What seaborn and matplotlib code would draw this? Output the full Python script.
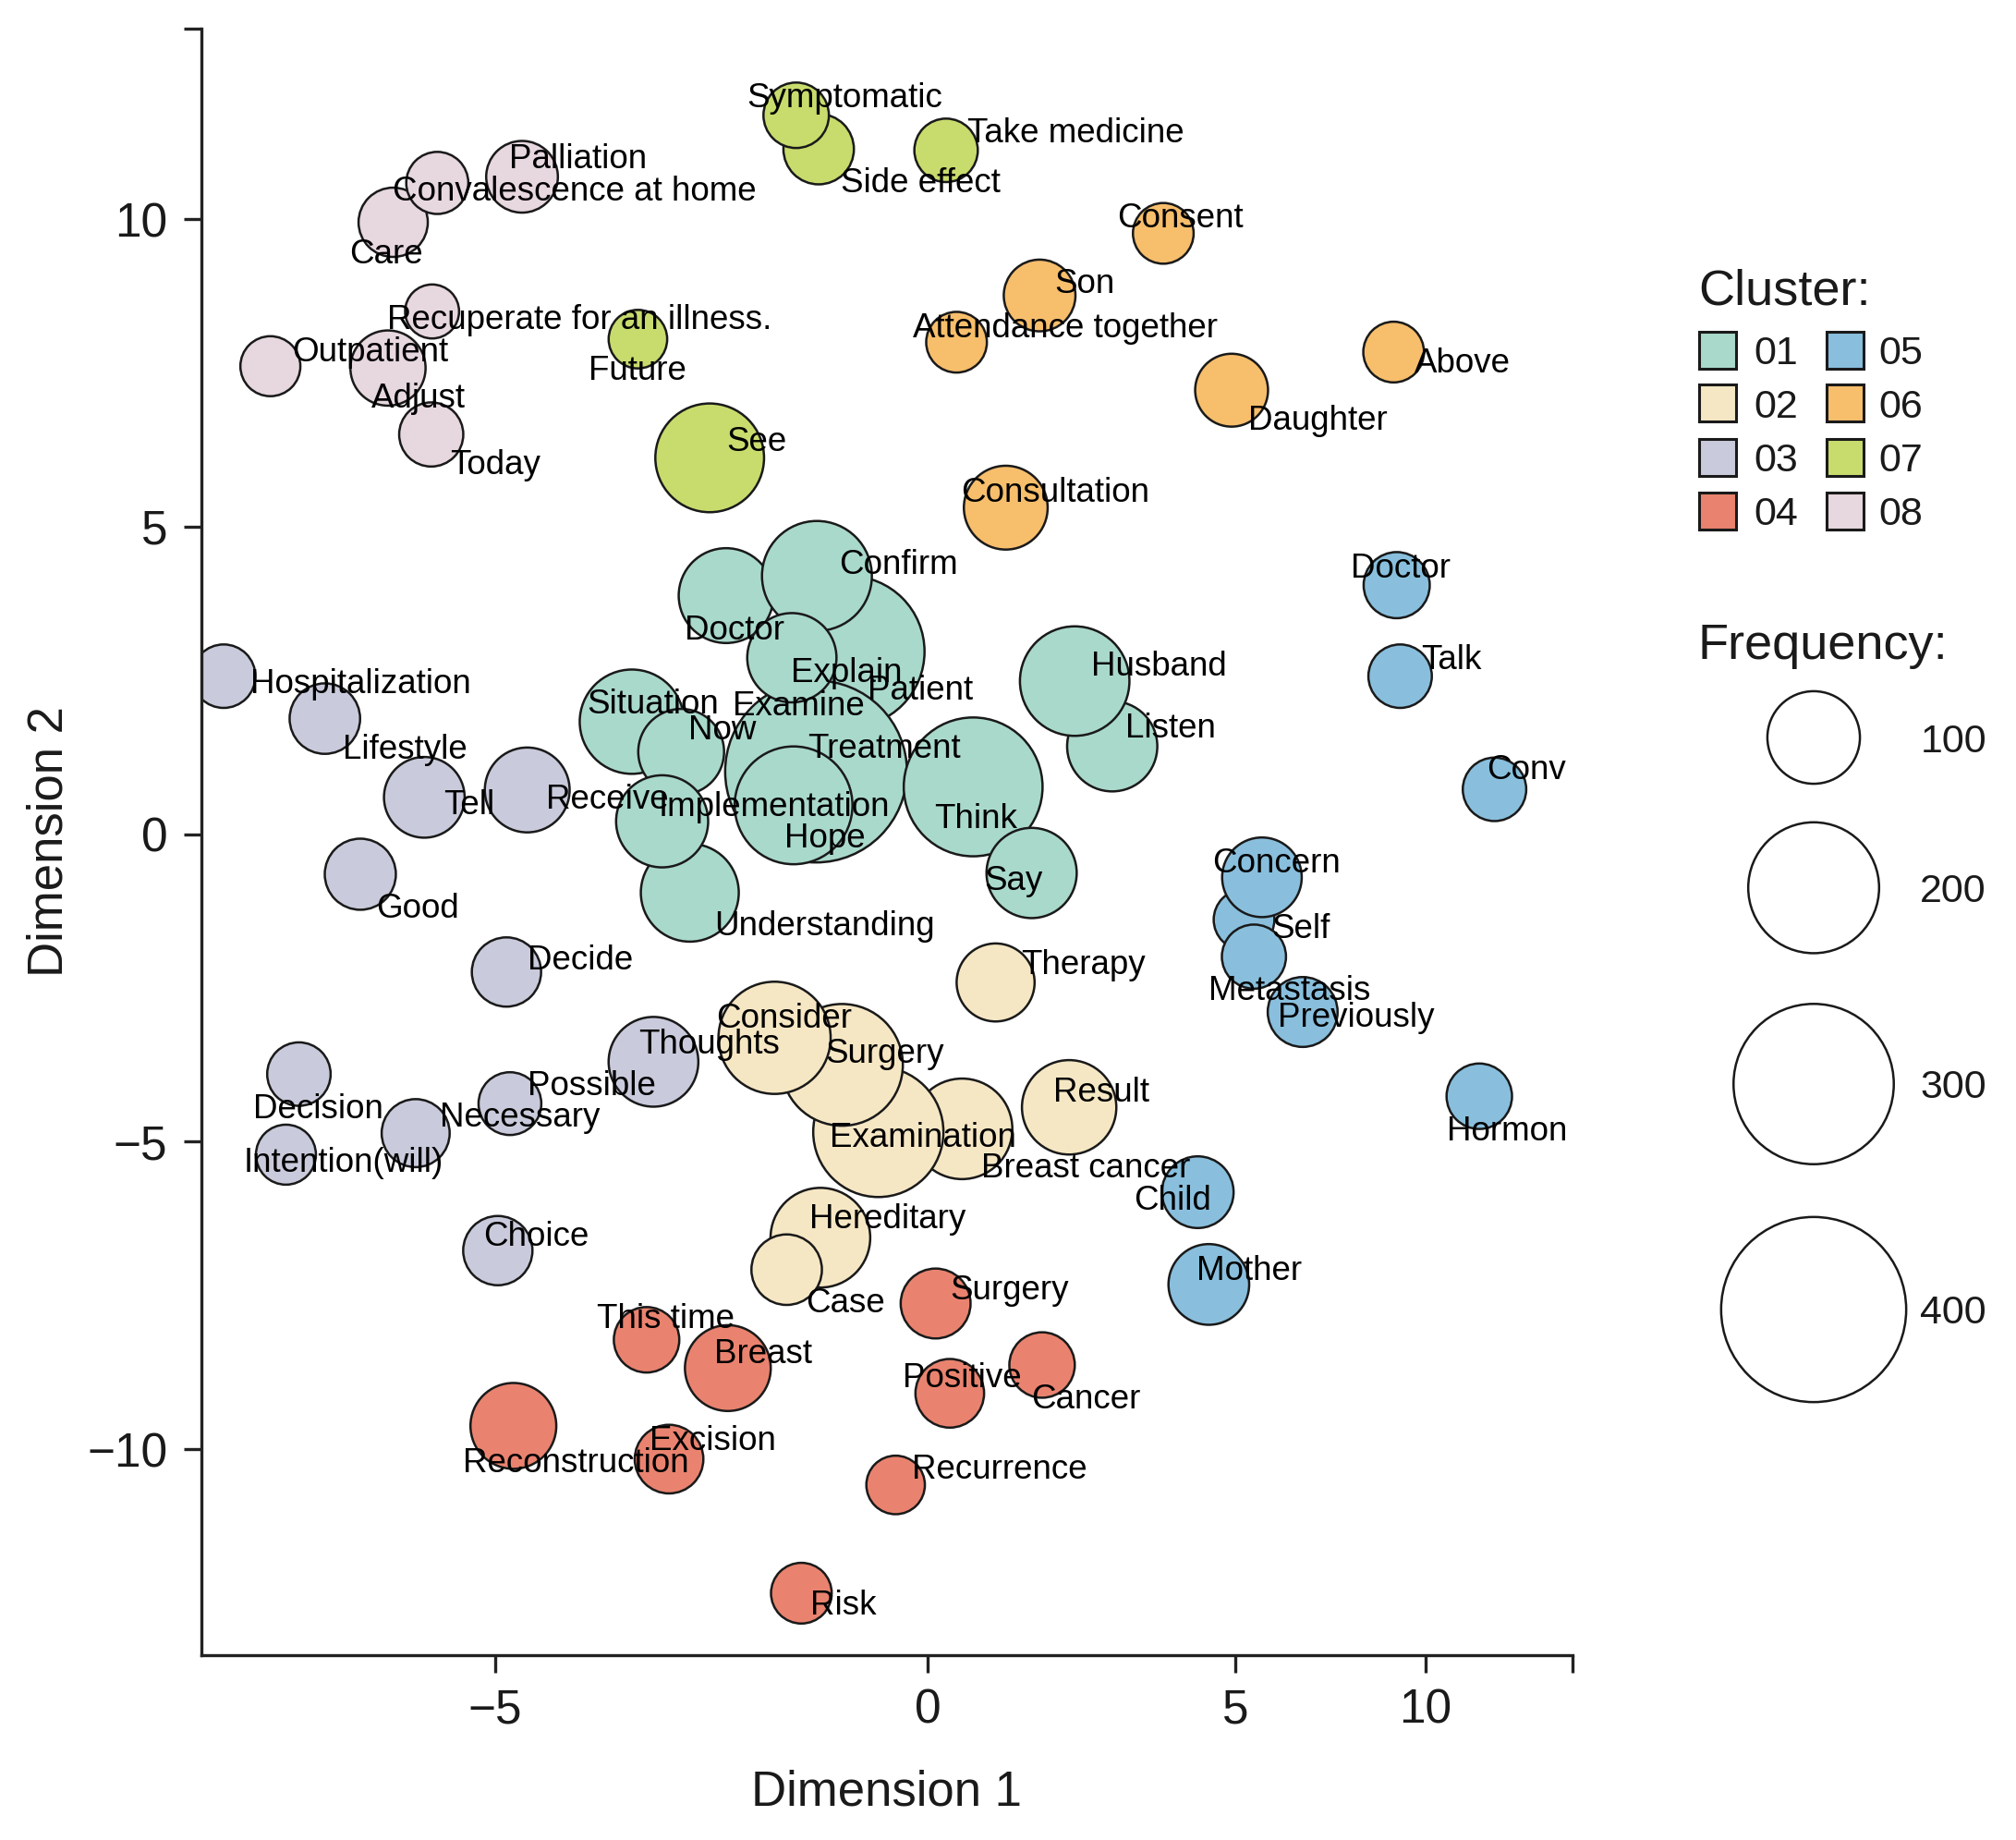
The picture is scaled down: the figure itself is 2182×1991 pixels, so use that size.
import numpy as np
import pandas as pd
import matplotlib
matplotlib.use("Agg")
import matplotlib.pyplot as plt
from matplotlib.patches import Rectangle
import seaborn as sns

# ---------------- data ----------------
clusters = ["08"] * 7 + ["07"] * 5 + ["06"] * 6 + ["01"] * 15 + ["03"] * 12 + ["02"] * 8 + ["04"] * 9 + ["05"] * 10

words = [
    # 08
    "Care", "Convalescence at home", "Palliation", "Outpatient", "Adjust", "Recuperate for an illness.", "Today",
    # 07
    "Side effect", "Symptomatic", "Take medicine", "Future", "See",
    # 06
    "Consent", "Son", "Attendance together", "Above", "Daughter", "Consultation",
    # 01
    "Patient", "Examine", "Treatment", "Doctor", "Confirm", "Explain", "Situation", "Now",
    "Understanding", "Implementation", "Hope", "Think", "Say", "Listen", "Husband",
    # 03
    "Hospitalization", "Lifestyle", "Tell", "Receive", "Good", "Decide", "Thoughts", "Decision",
    "Possible", "Necessary", "Intention(will)", "Choice",
    # 02
    "Breast cancer", "Examination", "Surgery", "Consider", "Therapy", "Result", "Hereditary", "Case",
    # 04
    "Surgery", "This time", "Breast", "Positive", "Cancer", "Reconstruction", "Excision", "Recurrence", "Risk",
    # 05
    "Doctor", "Talk", "Conv", "Self", "Concern", "Metastasis", "Previously", "Hormon", "Child", "Mother",
]

dim1 = [
    -6.18, -5.67, -4.69, -7.60, -6.24, -5.73, -5.74,
    -1.26, -1.52, 0.30, -3.35, -2.52,
    3.83, 1.82, 0.47, 9.16, 4.94, 1.27,
    -0.91, -1.43, -1.29, -2.33, -1.28, -1.57, -3.42, -2.85,
    -2.75, -3.07, -1.55, 0.74, 1.69, 3.00, 2.39,
    -8.14, -6.97, -5.82, -4.63, -6.56, -4.87, -3.17, -7.27,
    -4.83, -5.92, -7.42, -4.97,
    0.56, -0.57, -0.99, -1.77, 1.105, 2.30, -1.24, -1.63,
    0.13, -3.25, -2.31, 0.36, 1.86, -4.79, -2.99, -0.37, -1.46,
    9.24, 9.33, 11.81, 5.23, 5.70, 5.49, 6.77, 11.41, 4.39, 4.57,
]

dim2 = [
    9.95, 10.59, 10.69, 7.61, 7.58, 8.50, 6.50,
    11.14, 11.69, 11.12, 8.05, 6.12,
    9.77, 8.76, 8.00, 7.84, 7.22, 5.31,
    2.97, 1.54, 1.02, 3.88, 4.20, 2.87, 1.83, 1.34,
    -0.95, 0.21, 0.47, 0.77, -0.63, 1.43, 2.49,
    2.57, 1.88, 0.60, 0.72, -0.65, -2.24, -3.70, -3.90,
    -4.38, -4.86, -5.21, -6.77,
    -4.79, -4.84, -3.75, -3.31, -2.41, -4.44, -6.56, -7.08,
    -7.63, -8.22, -8.68, -9.09, -8.63, -9.62, -10.16, -10.58, -12.34,
    4.05, 2.57, 0.73, -1.39, -0.70, -1.99, -2.89, -4.26, -5.82, -7.32,
]

frequency = [
    56, 45, 60, 42, 66, 34, 48,
    58, 50, 47, 40, 138,
    43, 60, 43, 43, 62, 82,
    267, 67, 386, 105, 141, 93, 127, 86,
    112, 99, 162, 225, 95, 95, 140,
    47, 58, 76, 84, 59, 56, 94, 47,
    46, 54, 42, 56,
    118, 198, 173, 147, 71, 104, 116, 58,
    57, 50, 86, 55, 50, 86, 55, 40, 43,
    51, 47, 47, 43, 74, 48, 57, 50, 60, 76,
]

cluster_levels = ["01", "02", "03", "04", "05", "06", "07", "08"]
legend_freqs = [100, 200, 300, 400]
x_tick_values = [-5, 0, 5, 10]
y_tick_values = [-10, -5, 0, 5, 10]

# label offsets (points) relative to each bubble centre
label_dx = [
    -33.9, -35, -9.8, 17.2, -12.8, -35.1, 14.6,
    17, -38.5, 16.7, -38.7, 12.8,
    -36.2, 11.9, -34.4, 16, 13.3, -35.2,
    14.3, -55.4, -6.7, -32, 17.2, -0.6, -35.2, 5.8,
    19, -2.7, -7, -30, -37.2, 10.2, 12.8,
    21, 14.2, 14.8, 15, 12.1, 16.4, -11.9, -35.9,
    13.9, 18.6, -32.8, -11.3,
    15.2, -37.7, -13.1, -45.7, 19.6, -12.7, -8.3, 14.6,
    11.2, -38.5, -10.9, -36.9, -8.4, -39.7, -15.3, 12.9, 6.6,
    -35.8, 16.3, -5.9, 21.6, -39, -35.1, -19.1, -25.1, -49.9, -9.7,
]
label_dy = [
    -22.1, -4, 16.7, 13.8, -21, -3.7, -21.3,
    -23.7, 15.8, 15.8, -22, 15.3,
    14.2, 11.7, 13.4, -6.1, -20.9, 14,
    -27.6, 28.3, 20.3, -24.4, 11.4, -9.4, 16.1, 19.8,
    -23.4, 14, -23.2, -22.2, -3.3, 16.4, 14.3,
    -3.2, -21.6, -3.2, -4.5, -24, 11.8, 16.4, -24.6,
    16.2, 14.7, -3.3, 13.7,
    -28.1, -2, 11, 17.9, 16, 13.9, 17.1, -23.3,
    13.1, 18.6, 13.3, 14.5, -23.8, -26, 16.8, 14.9, -7,
    15.8, 14.9, 17.8, -4.8, 13.2, -23.7, -1.8, -24.7, -4.3, 12.9,
]

df = pd.DataFrame({"word": words, "dim1": dim1, "dim2": dim2,
                   "cluster": clusters, "freq": frequency})

# ---------------- style ----------------
palette = {
    "01": "#a9d9cb", "02": "#f6e7c4", "03": "#c9cbdc", "04": "#e9836f",
    "05": "#89bfdd", "06": "#f7be6c", "07": "#c8dc6d", "08": "#e7d7df",
}
EDGE = "#1a1a1a"
AREA_PER_UNIT = 52.0  # pt^2 per frequency unit

sns.set_theme(style="ticks")
FONT = ["Liberation Sans", "DejaVu Sans"]
plt.rcParams["font.family"] = FONT

W, H = 2182, 1991
fig = plt.figure(figsize=(W / 100, H / 100), dpi=100)
ax_left, ax_right, ax_top, ax_bottom = 217.5, 1702, 30.6, 1790.5
ax = fig.add_axes([ax_left / W, (H - ax_bottom) / H,
                   (ax_right - ax_left) / W, (ax_bottom - ax_top) / H])

# non-uniform horizontal axis as in the original figure
KX = np.array([-5.0, 0.0, 5.0, 10.0])
KU = np.array([536.0, 1004.0, 1337.0, 1543.0])
SL = (KU[1] - KU[0]) / (KX[1] - KX[0])
SR = (KU[-1] - KU[-2]) / (KX[-1] - KX[-2])


def fwd(x):
    x = np.asarray(x, dtype=float)
    return (np.interp(x, KX, KU) + np.where(x < KX[0], (x - KX[0]) * SL, 0.0)
            + np.where(x > KX[-1], (x - KX[-1]) * SR, 0.0))


def inv(u):
    u = np.asarray(u, dtype=float)
    return (np.interp(u, KU, KX) + np.where(u < KU[0], (u - KU[0]) / SL, 0.0)
            + np.where(u > KU[-1], (u - KU[-1]) / SR, 0.0))


fmin, fmax = min(frequency), max(frequency)
sns.scatterplot(data=df, x="dim1", y="dim2", hue="cluster", hue_order=cluster_levels,
                palette=palette, size="freq",
                sizes=(AREA_PER_UNIT * fmin, AREA_PER_UNIT * fmax), size_norm=(fmin, fmax),
                edgecolor=EDGE, linewidth=1.8, alpha=1, legend=False, ax=ax)

for w, xv, yv, dx, dy in zip(words, dim1, dim2, label_dx, label_dy):
    ax.annotate(w, (xv, yv), xytext=(dx, dy), textcoords="offset points",
                ha="left", va="center_baseline", fontsize=26.5, color="black",
                family=FONT)

ax.set_xscale("function", functions=(fwd, inv))
x_lo = inv(ax_left)
x_hi = inv(ax_right)
y_scale = 66.55
y_lo = (902.7 - ax_bottom) / y_scale
y_hi = (902.7 - ax_top) / y_scale
ax.set_xlim(float(x_lo), float(x_hi))
ax.set_ylim(y_lo, y_hi)

ax.set_xticks(x_tick_values + [float(x_hi)])
ax.set_xticklabels([str(v).replace("-", "\u2212") for v in x_tick_values] + [""])
ax.set_yticks(y_tick_values + [y_hi])
ax.set_yticklabels([str(v).replace("-", "\u2212") for v in y_tick_values] + [""])
ax.minorticks_off()

ax.tick_params(axis="both", which="major", length=14, width=2.4, pad=12,
               labelsize=37, color="#222222", labelcolor="#1a1a1a", direction="out")
for side in ["top", "right"]:
    ax.spines[side].set_visible(False)
for side in ["left", "bottom"]:
    ax.spines[side].set_linewidth(2.4)
    ax.spines[side].set_color("#222222")
ax.set_facecolor("white")
ax.grid(False)

ax.set_xlabel("Dimension 1", fontsize=38, labelpad=28, color="#1a1a1a")
ax.set_ylabel("Dimension 2", fontsize=38, labelpad=11, color="#1a1a1a")

# ---------------- legends (figure pixel layout) ----------------
lax = fig.add_axes([0, 0, 1, 1])
lax.set_xlim(0, W)
lax.set_ylim(H, 0)
lax.axis("off")

lax.text(1838, 310, "Cluster:", fontsize=39, ha="left", va="center_baseline", color="#1a1a1a")
row_y = [378.5, 436, 494.5, 552.5]
col_x = [1839, 1977]
lab_x = [1898, 2033]
for i, c in enumerate(cluster_levels):
    col, row = divmod(i, 4)
    lax.add_patch(Rectangle((col_x[col], row_y[row] - 20), 40, 40,
                            facecolor=palette[c], edgecolor=EDGE, linewidth=2.2))
    lax.text(lab_x[col], row_y[row], c, fontsize=31, ha="left",
             va="center_baseline", color="#1a1a1a")

lax.text(1838, 693.5, "Frequency:", fontsize=39, ha="left", va="center_baseline", color="#1a1a1a")
circ_y = [798, 960.6, 1173, 1417]
lax.scatter([1963] * len(legend_freqs), circ_y,
            s=[AREA_PER_UNIT * f for f in legend_freqs],
            facecolor="white", edgecolor=EDGE, linewidth=1.8)
for f, yy in zip(legend_freqs, circ_y):
    lax.text(2150, yy, str(f), fontsize=31, ha="right", va="center_baseline", color="#1a1a1a")

fig.savefig("out.png", dpi=100, facecolor="white")
